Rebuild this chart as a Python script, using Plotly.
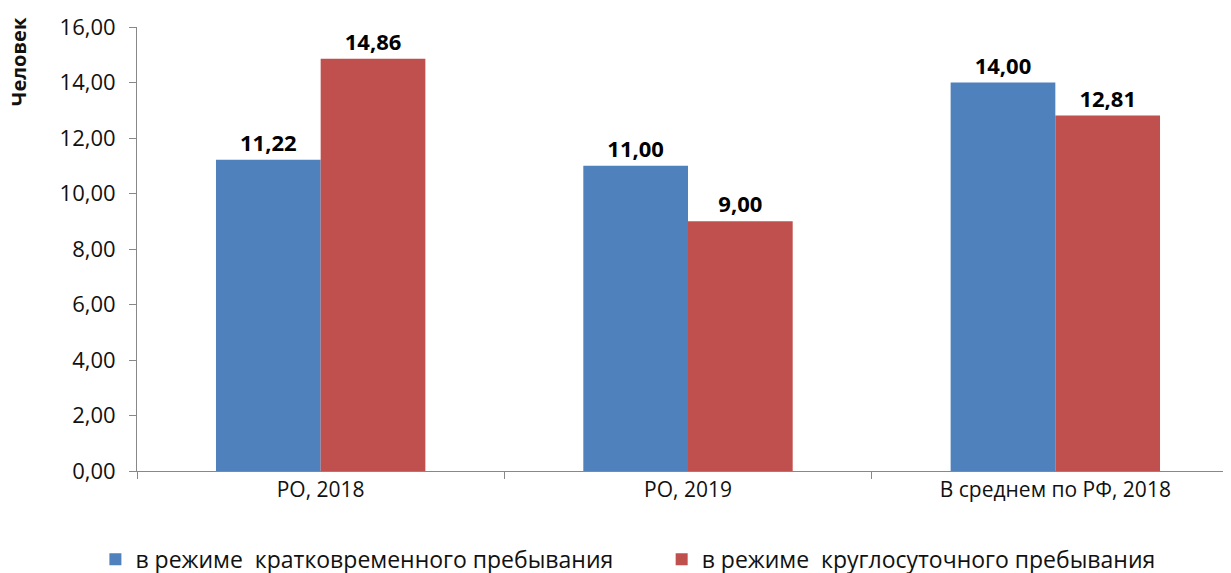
import plotly.graph_objects as go

categories = ["РО, 2018", "РО, 2019", "В среднем по РФ, 2018"]
short_stay = [11.22, 11.00, 14.00]
round_clock = [14.86, 9.00, 12.81]
series_names = ["в режиме  кратковременного пребывания", "в режиме  круглосуточного пребывания"]

font_family = "Open Sans, Liberation Sans, sans-serif"

fig = go.Figure()
fig.add_trace(go.Bar(x=categories, y=short_stay, name=series_names[0],
                     marker=dict(color="#4F81BD", line=dict(width=0)),
                     texttemplate="%{y:.2f}", textposition="outside",
                     textfont=dict(size=22, color="black", family=font_family, weight="bold"),
                     cliponaxis=False, legend="legend"))
fig.add_trace(go.Bar(x=categories, y=round_clock, name=series_names[1],
                     marker=dict(color="#C0504D", line=dict(width=0)),
                     texttemplate="%{y:.2f}", textposition="outside",
                     textfont=dict(size=22, color="black", family=font_family, weight="bold"),
                     cliponaxis=False, legend="legend2"))

legend_style = dict(orientation="h", xref="container", yref="container",
                    xanchor="left", y=0.038, yanchor="middle",
                    font=dict(size=23), itemwidth=30)

# page body adds an 8px offset, so margins are shifted to compensate
fig.update_layout(
    width=1231, height=573,
    margin=dict(l=129, r=0, t=19, b=110, autoexpand=False),
    barmode="group", bargap=0.43, bargroupgap=0,
    separators=", ",
    plot_bgcolor="white", paper_bgcolor="white",
    font=dict(family=font_family, size=21, color="#111111"),
    showlegend=True,
    legend=dict(x=0.071, **legend_style),
    legend2=dict(x=0.531, **legend_style),
    annotations=[dict(text="<b>Человек</b>", textangle=-90,
                      xref="paper", yref="paper", x=-0.108, y=0.923,
                      xanchor="center", yanchor="middle", showarrow=False,
                      font=dict(size=20))],
)
fig.update_yaxes(range=[0, 16], dtick=2, tickformat=".2f", showgrid=False,
                 showline=True, linecolor="#888888", linewidth=1,
                 ticks="outside", ticklen=7, tickcolor="#888888",
                 tickfont=dict(size=22), ticklabelstandoff=9,
                 zeroline=False, automargin=False)
fig.update_xaxes(showline=True, linecolor="#888888", linewidth=1,
                 ticks="outside", ticklen=7, tickcolor="#888888",
                 tickson="boundaries", tickfont=dict(size=21), automargin=False)

fig.write_html("out.html")
